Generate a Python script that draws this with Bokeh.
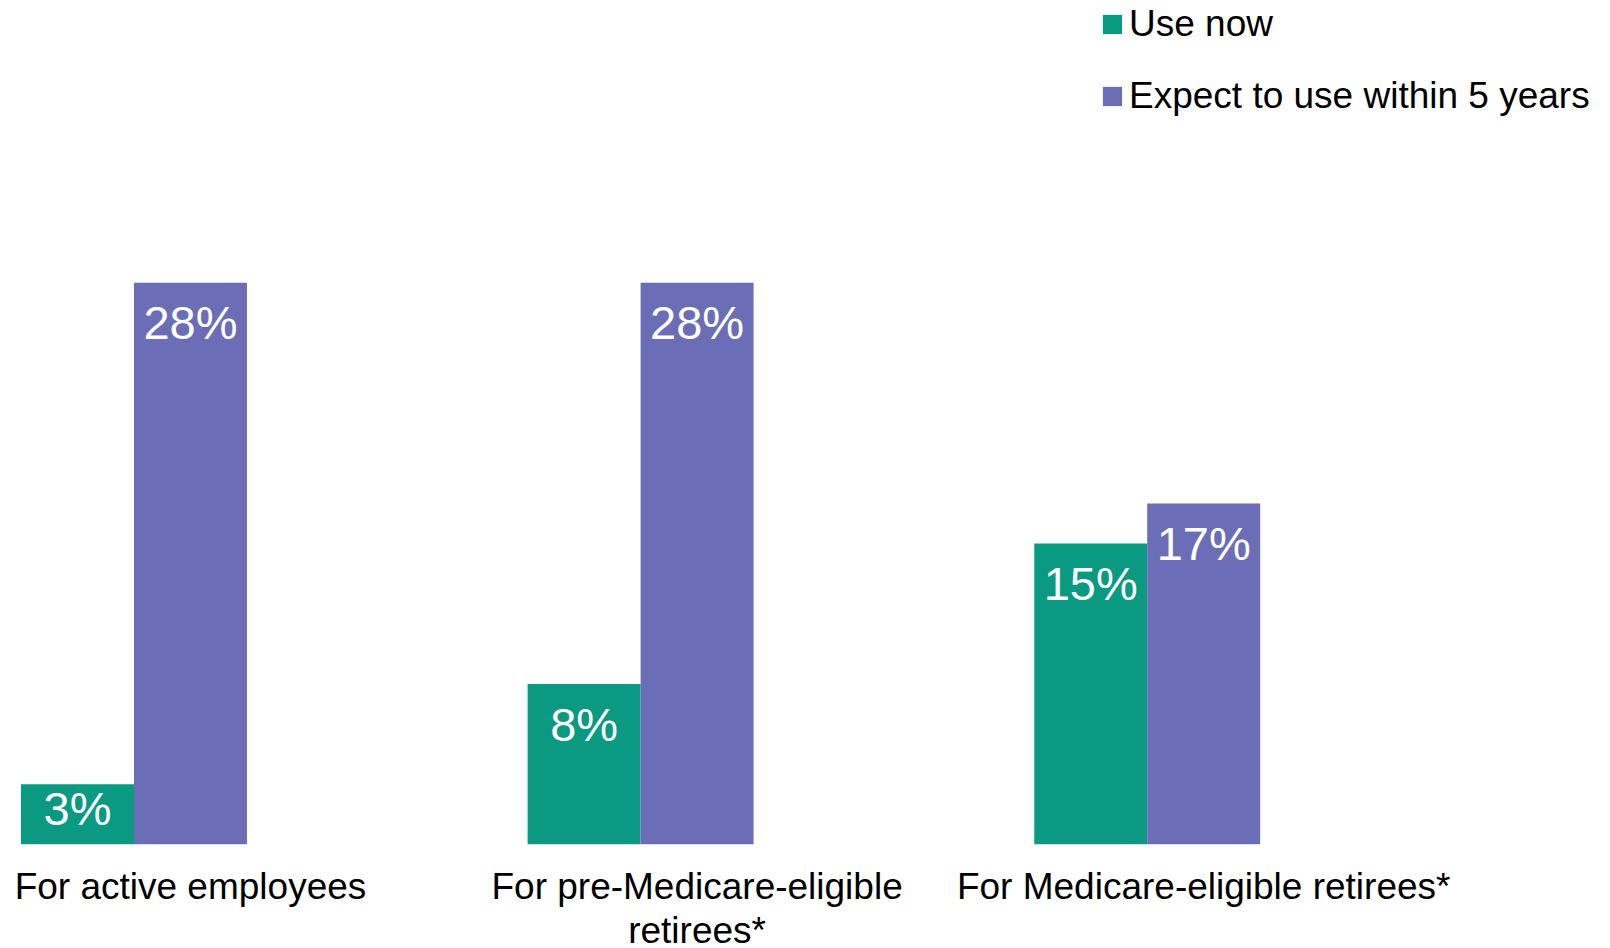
from bokeh.plotting import figure
from bokeh.models import ColumnDataSource, Range1d, FixedTicker, Legend, LegendItem
from bokeh.core.properties import value
from bokeh.embed import file_html
from bokeh.resources import INLINE

categories = ["For active employees", "For pre-Medicare-eligible\nretirees*", "For Medicare-eligible retirees*"]
use_now = [3, 8, 15]
expect_5y = [28, 28, 17]
series_names = ["Use now", "Expect to use within 5 years"]
colors = ["#099a81", "#6b6eb7"]

W = 1610
frame_h = 844
y_end = 42.07
px_per_unit = frame_h / y_end

bar_w = 0.223
x_idx = list(range(len(categories)))
x_green = [i - bar_w for i in x_idx]
x_purple = [i for i in x_idx]

p = figure(frame_width=W, frame_height=frame_h, output_backend="svg", toolbar_location=None,
           x_range=Range1d(-0.375, 2.803), y_range=Range1d(0, y_end),
           min_border_left=0, min_border_right=0, min_border_top=0, min_border_bottom=0)
p.outline_line_color = None
p.background_fill_color = "white"
p.border_fill_color = "white"
p.xgrid.visible = False
p.ygrid.visible = False
p.yaxis.visible = False

src_g = ColumnDataSource(dict(x=x_green, top=use_now, label=[f"{v}%" for v in use_now]))
src_p = ColumnDataSource(dict(x=x_purple, top=expect_5y, label=[f"{v}%" for v in expect_5y]))

r_g = p.vbar(x="x", top="top", bottom=0, width=bar_w, source=src_g,
             fill_color=colors[0], line_color=None)
r_p = p.vbar(x="x", top="top", bottom=0, width=bar_w, source=src_p,
             fill_color=colors[1], line_color=None)

def offsets(vals):
    return [min(40.0, 0.41 * v * px_per_unit) for v in vals]

src_g.data["yoff"] = offsets(use_now)
src_p.data["yoff"] = offsets(expect_5y)

for src in (src_g, src_p):
    p.text(x="x", y="top", text="label", source=src, y_offset="yoff",
           text_color="white", text_font=value("Liberation Sans"),
           text_font_size="47px", text_align="center", text_baseline="alphabetic")

ax = p.xaxis[0]
ax.ticker = FixedTicker(ticks=x_idx)
ax.major_label_overrides = {i: c for i, c in zip(x_idx, categories)}
ax.axis_line_color = None
ax.major_tick_line_color = None
ax.minor_tick_line_color = None
ax.major_label_text_font = "Liberation Sans"
ax.major_label_text_font_size = "37px"
ax.major_label_text_line_height = 1.08
ax.major_label_text_color = "black"
ax.major_label_standoff = 15

legend = Legend(items=[LegendItem(label=series_names[0], renderers=[r_g]),
                       LegendItem(label=series_names[1], renderers=[r_p])],
                location=(1100, 727), orientation="vertical",
                label_text_font="Liberation Sans", label_text_font_size="37px",
                label_text_color="black", glyph_width=24, glyph_height=24,
                label_standoff=5, label_height=42, spacing=30, padding=0, margin=0,
                border_line_color=None, background_fill_alpha=0)
p.add_layout(legend)

open("out.html", "w").write(file_html(p, INLINE))
